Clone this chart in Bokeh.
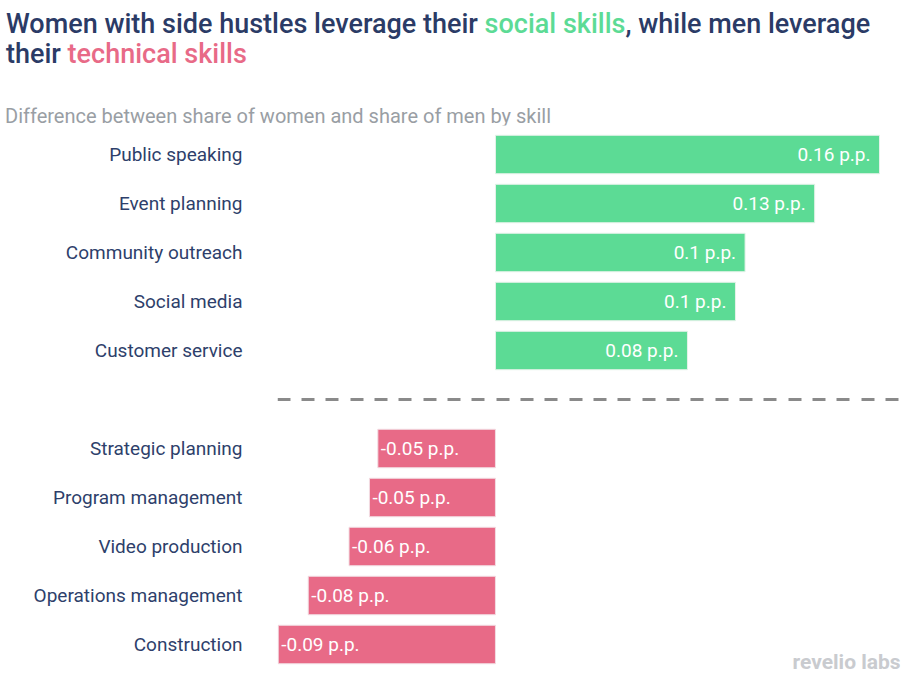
from bokeh.plotting import figure
from bokeh.models import Div, Range1d, FixedTicker, Span, Label, ColumnDataSource
from bokeh.layouts import column
from bokeh.core.properties import value
from bokeh.embed import file_html
from bokeh.resources import INLINE

# ---- data ----
social_skills = ["Public speaking", "Event planning", "Community outreach", "Social media", "Customer service"]
social_values = [0.160, 0.133, 0.104, 0.100, 0.080]
social_labels = ["0.16 p.p.", "0.13 p.p.", "0.1 p.p.", "0.1 p.p.", "0.08 p.p."]

tech_skills = ["Strategic planning", "Program management", "Video production", "Operations management", "Construction"]
tech_values = [-0.049, -0.0525, -0.061, -0.078, -0.0905]
tech_labels = ["-0.05 p.p.", "-0.05 p.p.", "-0.06 p.p.", "-0.08 p.p.", "-0.09 p.p."]

GREEN = "#5cdb95"
PINK = "#e86a87"
NAVY = "#2b3b66"
FONT = "Roboto"

# row slots: social rows 0..4, separator at 5, technical rows 6..10
social_pos = list(range(len(social_skills)))
sep_pos = len(social_skills)
tech_pos = [sep_pos + 1 + i for i in range(len(tech_skills))]

title_html = f"""
<div style="font-family:{FONT}; width:922px;">
  <div style="margin-top:9px; padding-left:6px; font-size:27px; line-height:30px; font-weight:500; color:{NAVY}; white-space:nowrap;">
    Women with side hustles leverage their <span style="color:{GREEN};">social skills</span>, while men leverage<br>
    their <span style="color:{PINK};">technical skills</span>
  </div>
  <div style="margin-top:35px; padding-left:5px; font-size:20px; line-height:24px; color:#999ea4; white-space:nowrap;">
    Difference between share of women and share of men by skill
  </div>
</div>
"""
header = Div(text=title_html, width=922, height=125, margin=(0, 0, 0, 0))

p = figure(width=922, height=565, output_backend="svg", toolbar_location=None,
           title=None, x_range=Range1d(-0.0908, 0.16875),
           y_range=Range1d(start=10.612, end=-0.592),
           min_border_left=277, min_border_right=22, min_border_top=0, min_border_bottom=16,
           margin=(0, 0, 0, 0))
p.outline_line_color = None
p.xgrid.visible = False
p.ygrid.visible = False
p.xaxis.visible = False
p.background_fill_color = "white"
p.border_fill_color = "white"

src_s = ColumnDataSource(dict(y=social_pos, v=social_values, lab=social_labels))
src_t = ColumnDataSource(dict(y=tech_pos, v=tech_values, lab=tech_labels))

p.hbar(y="y", left=0, right="v", height=0.785, source=src_s,
       fill_color=GREEN, line_color="#e6f2ea", line_width=1)
p.hbar(y="y", left=0, right="v", height=0.785, source=src_t,
       fill_color=PINK, line_color="#f2dde3", line_width=1)

p.text(x="v", y="y", text="lab", source=src_s, x_offset=-9, text_align="right",
       text_baseline="middle", text_color="white", text_font=value(FONT), text_font_size="19px")
p.text(x="v", y="y", text="lab", source=src_t, x_offset=3, text_align="left",
       text_baseline="middle", text_color="white", text_font=value(FONT), text_font_size="19px")

p.add_layout(Span(location=sep_pos, dimension="width", line_color="#8a8a8a",
                  line_width=3, line_dash="13 11 13 11 13 12"))

ax = p.yaxis[0]
ax.ticker = FixedTicker(ticks=social_pos + tech_pos)
ax.major_label_overrides = {**{pos: s for pos, s in zip(social_pos, social_skills)},
                            **{pos: s for pos, s in zip(tech_pos, tech_skills)}}
ax.axis_line_color = None
ax.major_tick_line_color = None
ax.minor_tick_line_color = None
ax.major_tick_out = 0
ax.major_tick_in = 0
ax.major_label_standoff = 35
ax.major_label_text_font = FONT
ax.major_label_text_font_size = "19px"
ax.major_label_text_color = "#2e3f6b"

p.add_layout(Label(x=0.1688, y=10.35, text="revelio labs", text_align="right",
                   text_baseline="middle", text_font=FONT, text_font_size="21px",
                   text_font_style="bold", text_color="#c9cbcf"))

layout = column(header, p, margin=(0, 0, 0, 0), spacing=0)
open("out.html", "w").write(file_html(layout, INLINE))
